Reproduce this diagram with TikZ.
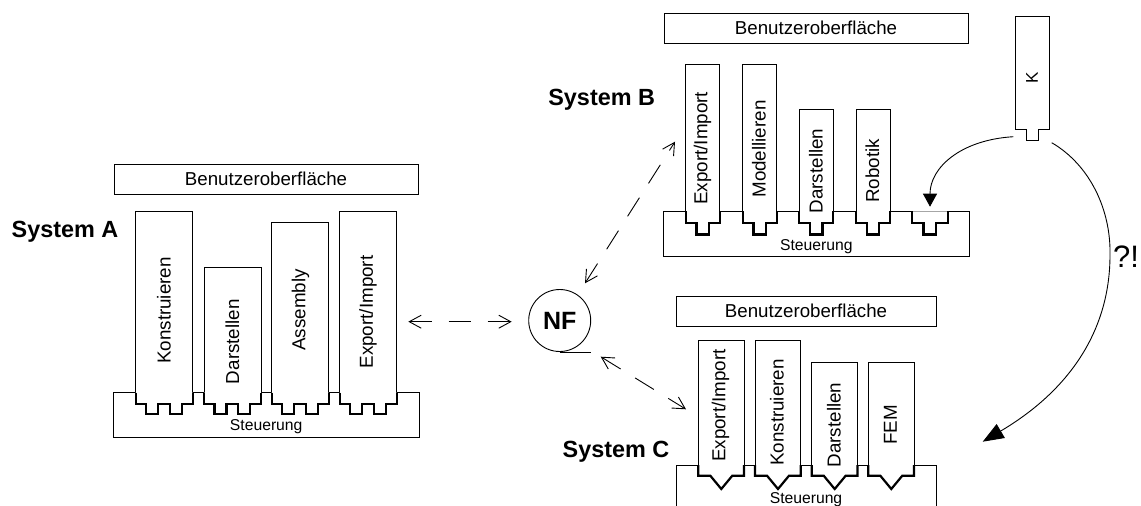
\documentclass[tikz,border=0pt]{standalone}
\usepackage{fontspec}
\setmainfont{Liberation Sans}
\usetikzlibrary{arrows.meta}

\tikzset{
  thinline/.style={line width=0.9pt},
  plug/.style={line width=2.2pt, fill=white},
  uibox/.style={draw, line width=0.9pt, inner sep=0pt, font=\fontsize{18.7}{20}\selectfont},
  modtext/.style={rotate=90, inner sep=0pt, font=\fontsize{18.8}{20}\selectfont},
  basetext/.style={inner sep=0pt, font=\fontsize{15.7}{17}\selectfont},
  syslabel/.style={inner sep=0pt, font=\fontsize{23.4}{25}\selectfont\bfseries},
  link/.style={line width=0.9pt, dash pattern=on 22pt off 17pt,
    {Straight Barb[length=12pt,width=13pt]}-{Straight Barb[length=12pt,width=13pt]}},
  curvearrow/.style={line width=0.9pt},
}

% module body: left x, top y, width, base top y
\newcommand\modbody[4]{%
  \fill[white] (#1,#2) rectangle (#1+#3,#4+0.6);
  \draw[thinline] (#1,#4) -- (#1,#2) -- (#1+#3,#2) -- (#1+#3,#4);
}
% system A plug: two teeth
\newcommand\plugA[2]{%
  \filldraw[plug] (#1,#2) -- ++(0,11.6) -- ++(10.5,0) -- ++(0,10) -- ++(12,0) -- ++(0,-10)
    -- ++(11.5,0) -- ++(0,10) -- ++(12,0) -- ++(0,-10) -- ++(11,0) -- ++(0,-11.6);
}
% system B plug: one stepped tooth
\newcommand\plugB[3]{%
  \filldraw[plug] (#1,#2) -- ++(0,11.6) -- ++(#3,0) -- ++(0,11.6) -- ++(12.4,0) -- ++(0,-11.6)
    -- ++(#3,0) -- ++(0,-11.6);
}
% system C plug: V shaped
\newcommand\plugC[2]{%
  \filldraw[plug] (#1,#2) -- ++(0,10.7) -- ++(12,0) -- ++(11,13.3) -- ++(11,-13.3)
    -- ++(11.7,0) -- ++(0,-10.7);
}

\begin{document}
\begin{tikzpicture}[x=1pt,y=-1pt]
\useasboundingbox (0,0) rectangle (1141,506);
\fill[white] (0,0) rectangle (1141,506);

% ---------------- System A ----------------
\node[syslabel] (sysA) at (65,232) {System A};
\node[uibox, minimum width=304pt, minimum height=30pt] (uiA) at (266,179) {Benutzeroberfläche};
\draw[thinline] (113.3,392.7) rectangle (419,437.3);
\node[basetext] (ctrlA) at (266.2,426.7) {Steuerung};

\modbody{135.7}{211}{57}{392.7}\plugA{135.7}{392.7}
\modbody{204}{267.7}{57}{392.7}\plugA{204}{392.7}
\modbody{271.7}{222.3}{57}{392.7}\plugA{271.7}{392.7}
\modbody{339.7}{211}{57}{392.7}\plugA{339.7}{392.7}
\node[modtext] (a1) at (164,310.5) {Konstruieren};
\node[modtext] (a2) at (232.5,341.7) {Darstellen};
\node[modtext] (a3) at (300.5,310) {Assembly};
\node[modtext] (a4) at (368,312) {Export/Import};

% ---------------- System B ----------------
\node[syslabel] (sysB) at (601.7,100) {System B};
\node[uibox, minimum width=304pt, minimum height=30pt] (uiB) at (816,28) {Benutzeroberfläche};
\draw[thinline] (663.3,211.3) rectangle (969.3,256.7);
\node[basetext] (ctrlB) at (816.3,246.3) {Steuerung};

\modbody{685.7}{64.3}{34}{211.3}\plugB{685.7}{211.3}{10.8}
\modbody{742.7}{64.3}{34}{211.3}\plugB{742.7}{211.3}{10.8}
\modbody{799.3}{109.3}{34}{211.3}\plugB{799.3}{211.3}{10.8}
\modbody{856}{109.3}{34}{211.3}\plugB{856}{211.3}{10.8}
% free slot
\plugB{911.7}{211.3}{11.8}
\coordinate (slotB) at (930,206.7);
\node[modtext] (b1) at (702.5,148.3) {Export/Import};
\node[modtext] (b2) at (759,149) {Modellieren};
\node[modtext] (b3) at (816,171) {Darstellen};
\node[modtext] (b4) at (872.5,171) {Robotik};

% ---------------- System C ----------------
\node[syslabel] (sysC) at (616,452) {System C};
\node[uibox, minimum width=260pt, minimum height=30pt] (uiC) at (806,311) {Benutzeroberfläche};
\draw[thinline] (676,465) rectangle (936,535);
\node[basetext] (ctrlC) at (806,499.3) {Steuerung};

\modbody{698.3}{340}{45.7}{465}\plugC{698.3}{465}
\modbody{755}{340}{45.7}{465}\plugC{755}{465}
\modbody{811.7}{362.7}{45.7}{465}\plugC{811.7}{465}
\modbody{868.3}{362.7}{45.7}{465}\plugC{868.3}{465}
\node[modtext] (c1) at (720.5,405.5) {Export/Import};
\node[modtext] (c2) at (777,412.5) {Konstruieren};
\node[modtext] (c3) at (834,425) {Darstellen};
\node[modtext] (c4) at (890.5,425) {FEM};

% ---------------- neutral format ----------------
\node[circle, draw, line width=0.9pt, minimum size=62pt, inner sep=0pt,
      font=\fontsize{25}{27}\selectfont\bfseries] (nf) at (559.7,320.5) {NF};
\draw[thinline] (nf.south) -- ++(31,0);

\coordinate (aOut) at (408.3,321.7);
\coordinate (nfA) at (511.7,321.7);
\coordinate (nfB) at (585,283.3);
\coordinate (bIn) at (675,141.7);
\coordinate (nfC) at (600.7,356.7);
\coordinate (cIn) at (686,409.3);
\draw[link] (aOut) -- (nfA);
\draw[link] (nfB) -- (bIn);
\draw[link] (nfC) -- (cIn);

% ---------------- module K ----------------
\draw[thinline, fill=white] (1015.7,16) -- (1049,16) -- (1049,129.3) -- (1038.3,129.3)
  -- (1038.3,140.7) -- (1026.7,140.7) -- (1026.7,129.3) -- (1015.7,129.3) -- cycle;
\node[rotate=90, inner sep=0pt, font=\fontsize{17}{18}\selectfont] (k) at (1032,78) {K};
\coordinate (kL) at (1013.3,136.7);
\coordinate (kR) at (1051.7,142.7);
\coordinate (cTarget) at (982.7,441.7);

\draw[curvearrow, -{Triangle[length=13pt,width=14pt]}]
  (kL) .. controls (960,140) and (930,168) .. (slotB);
\draw[curvearrow, -{Triangle[length=21pt,width=16pt]}]
  (kR) .. controls (1090,165) and (1111,210) .. (1110,255)
  .. controls (1110,330) and (1070,390) .. (cTarget);
\node[inner sep=0pt, font=\fontsize{31}{33}\selectfont] (q) at (1126,257) {?!};

\end{tikzpicture}
\end{document}
